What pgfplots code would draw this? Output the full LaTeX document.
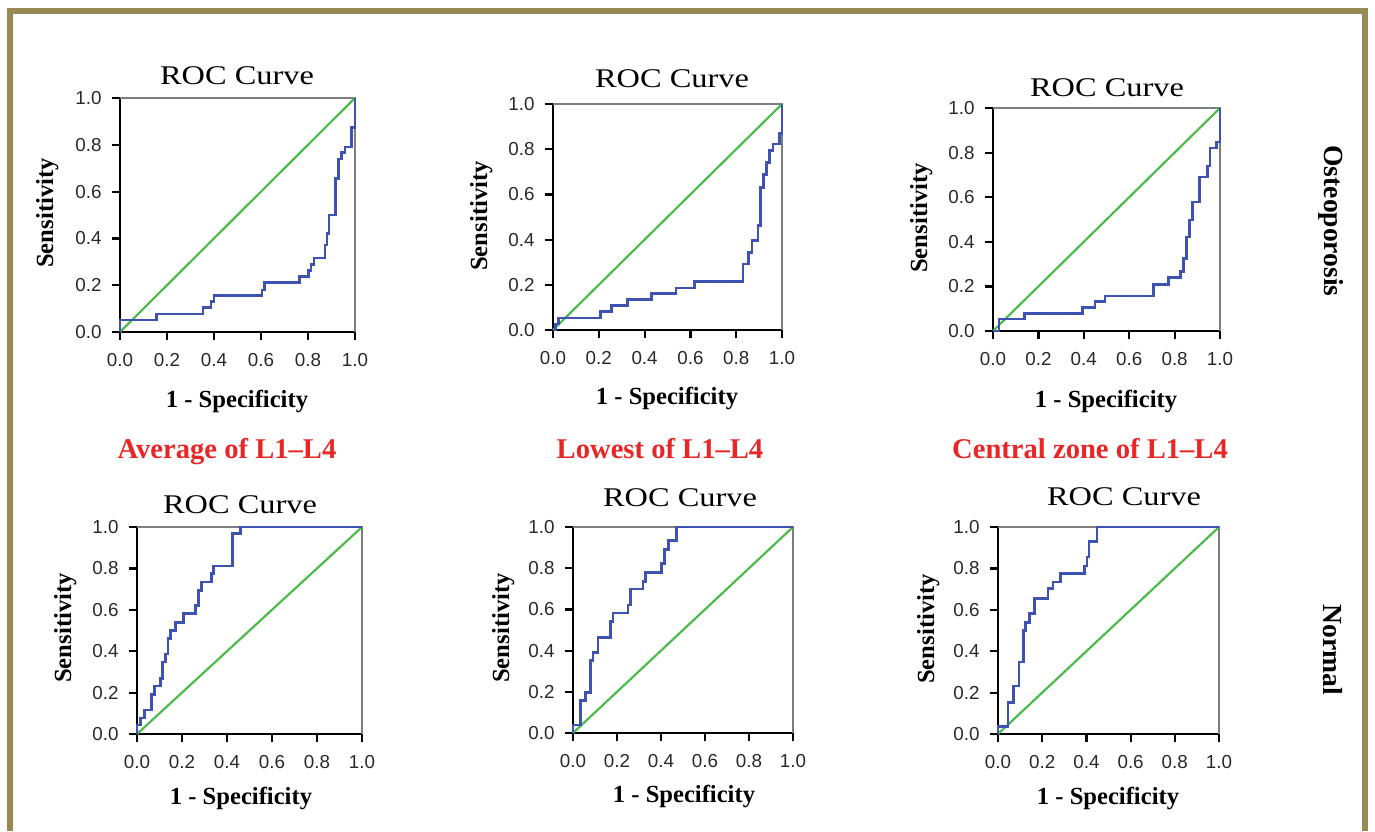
\documentclass[border=0pt]{standalone}
\usepackage{fontspec}
\setmainfont{Liberation Serif}
\setsansfont{Liberation Sans}
\usepackage{graphicx}
\usepackage{pgfplots}
\pgfplotsset{compat=1.18}

\definecolor{framecol}{RGB}{150,138,82}
\definecolor{roccol}{RGB}{62,82,178}
\definecolor{refcol}{RGB}{76,186,76}
\definecolor{capcol}{RGB}{232,38,38}
\definecolor{boxcol}{RGB}{125,125,125}
\definecolor{tickcol}{RGB}{40,40,40}

\pgfplotsset{
  roc/.style={
    scale only axis, clip=false,
    xmin=0, xmax=1, ymin=0, ymax=1,
    axis x line=bottom, axis y line=left,
    axis line style={-, line width=1.1pt, black},
    tick align=outside, major tick length=4.2pt,
    tick style={line width=1.1pt, black},
    xtick={0,0.2,0.4,0.6,0.8,1}, ytick={0,0.2,0.4,0.6,0.8,1},
    ticklabel style={font=\sffamily\fontsize{9.4}{11}\selectfont, text=tickcol,
      /pgf/number format/fixed, /pgf/number format/fixed zerofill,
      /pgf/number format/precision=1, /pgf/number format/assume math mode=true},
    xticklabel style={yshift=-3pt},
    yticklabel style={xshift=-1.5pt},
  },
  curve/.style={roccol, line width=1.3pt, const plot},
  diag/.style={refcol, line width=1.1pt},
}
\newcommand{\boxlines}{\draw[boxcol, line width=1.1pt] (rel axis cs:0,1) -- (rel axis cs:1,1) -- (rel axis cs:1,0);}
\newcommand{\roctitle}{\fontsize{13.5}{15}\selectfont\scalebox{1.2}[1]{ROC Curve}}
\newcommand{\labfont}{\bfseries\fontsize{12.3}{14}\selectfont}

\begin{document}
\begin{tikzpicture}[x=0.5pt, y=-0.5pt]
\useasboundingbox (0,0) rectangle (1375,831);
\draw[framecol, line width=3pt] (10,831) -- (10,11) -- (1365,11) -- (1365,831);

% ---- Osteoporosis row ----
\begin{axis}[roc, at={(60pt,-166pt)}, anchor=south west, width=117.5pt, height=117pt]
\boxlines
\addplot[diag] coordinates {(0,0) (1,1)};
\addplot[curve] coordinates {(0,0) (0,0.051) (0.155,0.077) (0.353,0.106) (0.388,0.131) (0.40,0.157)
  (0.605,0.18) (0.614,0.211) (0.763,0.237) (0.802,0.263) (0.812,0.289) (0.826,0.317) (0.873,0.371)
  (0.880,0.42) (0.89,0.50) (0.918,0.657) (0.929,0.739) (0.943,0.767) (0.958,0.791) (0.986,0.874) (1,1)};
\end{axis}

\begin{axis}[roc, at={(276.5pt,-165pt)}, anchor=south west, width=114.5pt, height=113pt]
\boxlines
\addplot[diag] coordinates {(0,0) (1,1)};
\addplot[curve] coordinates {(0,0) (0.01,0.026) (0.025,0.053) (0.207,0.083) (0.255,0.108) (0.324,0.134)
  (0.431,0.161) (0.537,0.186) (0.617,0.214) (0.829,0.292) (0.854,0.344) (0.869,0.395) (0.895,0.462)
  (0.905,0.631) (0.920,0.687) (0.931,0.742) (0.946,0.794) (0.961,0.823) (0.99,0.870) (1,1)};
\end{axis}

\begin{axis}[roc, at={(496.5pt,-165.5pt)}, anchor=south west, width=113.5pt, height=111.5pt]
\boxlines
\addplot[diag] coordinates {(0,0) (1,1)};
\addplot[curve] coordinates {(0,0) (0.026,0.054) (0.14,0.079) (0.394,0.106) (0.449,0.131) (0.493,0.157)
  (0.706,0.209) (0.772,0.239) (0.826,0.266) (0.838,0.325) (0.853,0.422) (0.865,0.497) (0.879,0.579)
  (0.909,0.69) (0.944,0.740) (0.956,0.821) (0.985,0.848) (1,1)};
\end{axis}

% ---- Normal row ----
\begin{axis}[roc, at={(68.5pt,-367pt)}, anchor=south west, width=112.5pt, height=103.5pt]
\boxlines
\addplot[diag] coordinates {(0,0) (1,1)};
\addplot[curve] coordinates {(0,0) (0,0.044) (0.015,0.077) (0.034,0.116) (0.064,0.19) (0.079,0.231)
  (0.104,0.269) (0.114,0.347) (0.126,0.387) (0.138,0.46) (0.148,0.5) (0.170,0.54) (0.207,0.581)
  (0.259,0.621) (0.274,0.694) (0.286,0.734) (0.33,0.774) (0.341,0.811) (0.425,0.968) (0.459,1) (1,1)};
\end{axis}

\begin{axis}[roc, at={(286.5pt,-366.5pt)}, anchor=south west, width=110pt, height=103pt]
\boxlines
\addplot[diag] coordinates {(0,0) (1,1)};
\addplot[curve] coordinates {(0,0) (0,0.039) (0.035,0.157) (0.056,0.198) (0.080,0.352) (0.091,0.392)
  (0.114,0.465) (0.171,0.541) (0.182,0.583) (0.25,0.622) (0.262,0.700) (0.318,0.736) (0.33,0.778)
  (0.402,0.822) (0.417,0.891) (0.435,0.935) (0.47,1) (1,1)};
\end{axis}

\begin{axis}[roc, at={(499pt,-367pt)}, anchor=south west, width=110.5pt, height=103.5pt]
\boxlines
\addplot[diag] coordinates {(0,0) (1,1)};
\addplot[curve] coordinates {(0,0) (0,0.037) (0.045,0.153) (0.071,0.231) (0.095,0.347) (0.116,0.5)
  (0.125,0.54) (0.143,0.581) (0.166,0.656) (0.226,0.702) (0.249,0.734) (0.282,0.774) (0.392,0.811)
  (0.403,0.855) (0.412,0.931) (0.448,1) (1,1)};
\end{axis}

% ---- titles ----
\node[anchor=base] at (237,84) {\roctitle};
\node[anchor=base] at (672,87) {\roctitle};
\node[anchor=base] at (1107,96) {\roctitle};
\node[anchor=base] at (240,513) {\roctitle};
\node[anchor=base] at (680,506) {\roctitle};
\node[anchor=base] at (1124,505) {\roctitle};

% ---- axis labels ----
\foreach \x/\y in {237/407, 667/404, 1106/407, 241/804, 684/802, 1108/804}
  \node[anchor=base, font=\labfont] at (\x,\y) {1 - Specificity};
\foreach \x/\y in {53/213, 487/216, 927/218, 71/628, 509/628, 934/629}
  \node[anchor=base, rotate=90, font=\labfont] at (\x,\y) {Sensitivity};

% ---- captions ----
\node[anchor=base, text=capcol, font=\bfseries\fontsize{14.3}{16}\selectfont] at (227,458) {Average of L1–L4};
\node[anchor=base, text=capcol, font=\bfseries\fontsize{14.3}{16}\selectfont] at (660,458) {Lowest of L1–L4};
\node[anchor=base, text=capcol, font=\bfseries\fontsize{14.3}{16}\selectfont] at (1090,458) {Central zone of L1–L4};

% ---- row labels ----
\node[anchor=base, rotate=-90, font=\bfseries\fontsize{13.8}{16}\selectfont] at (1324,221) {Osteoporosis};
\node[anchor=base, rotate=-90, font=\bfseries\fontsize{13.8}{16}\selectfont] at (1323,650) {Normal};
\end{tikzpicture}
\end{document}
